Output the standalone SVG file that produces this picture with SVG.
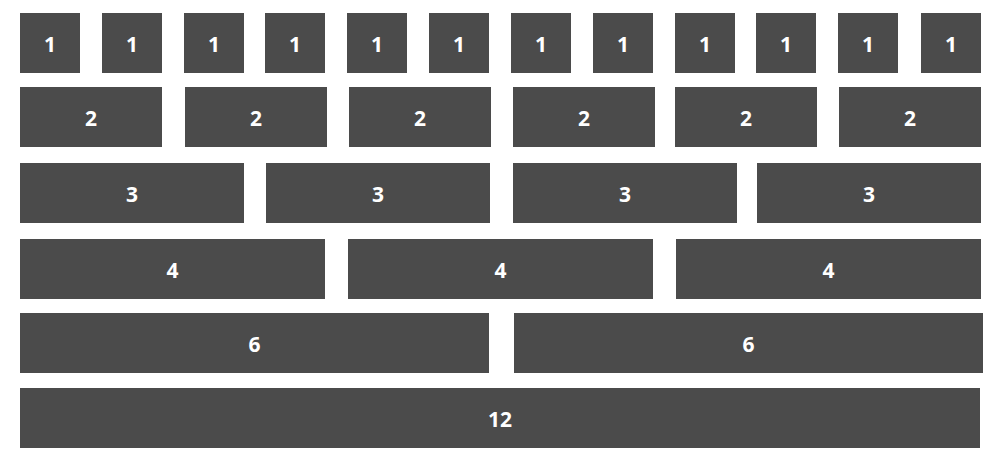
<svg xmlns="http://www.w3.org/2000/svg" width="1000" height="460" viewBox="0 0 1000 460">
<style>
rect{fill:#4b4b4b}
text{fill:#ffffff;font-family:"Open Sans","Liberation Sans",sans-serif;font-weight:700;font-size:21px;text-anchor:middle}
</style>
<rect x="0" y="0" width="1000" height="460" style="fill:#ffffff"/>
<g id="r1c1"><rect x="20" y="13" width="60" height="60"/><text x="50" y="52">1</text></g>
<g id="r1c2"><rect x="102" y="13" width="60" height="60"/><text x="132" y="52">1</text></g>
<g id="r1c3"><rect x="184" y="13" width="60" height="60"/><text x="214" y="52">1</text></g>
<g id="r1c4"><rect x="265" y="13" width="60" height="60"/><text x="295" y="52">1</text></g>
<g id="r1c5"><rect x="347" y="13" width="60" height="60"/><text x="377" y="52">1</text></g>
<g id="r1c6"><rect x="429" y="13" width="60" height="60"/><text x="459" y="52">1</text></g>
<g id="r1c7"><rect x="511" y="13" width="60" height="60"/><text x="541" y="52">1</text></g>
<g id="r1c8"><rect x="593" y="13" width="60" height="60"/><text x="623" y="52">1</text></g>
<g id="r1c9"><rect x="675" y="13" width="60" height="60"/><text x="705" y="52">1</text></g>
<g id="r1c10"><rect x="756" y="13" width="60" height="60"/><text x="786" y="52">1</text></g>
<g id="r1c11"><rect x="838" y="13" width="60" height="60"/><text x="868" y="52">1</text></g>
<g id="r1c12"><rect x="921" y="13" width="60" height="60"/><text x="951" y="52">1</text></g>
<g id="r2c1"><rect x="20" y="87" width="142" height="60"/><text x="91" y="126">2</text></g>
<g id="r2c2"><rect x="185" y="87" width="142" height="60"/><text x="256" y="126">2</text></g>
<g id="r2c3"><rect x="349" y="87" width="142" height="60"/><text x="420" y="126">2</text></g>
<g id="r2c4"><rect x="513" y="87" width="142" height="60"/><text x="584" y="126">2</text></g>
<g id="r2c5"><rect x="675" y="87" width="142" height="60"/><text x="746" y="126">2</text></g>
<g id="r2c6"><rect x="839" y="87" width="142" height="60"/><text x="910" y="126">2</text></g>
<g id="r3c1"><rect x="20" y="163" width="224" height="60"/><text x="132" y="202">3</text></g>
<g id="r3c2"><rect x="266" y="163" width="224" height="60"/><text x="378" y="202">3</text></g>
<g id="r3c3"><rect x="513" y="163" width="224" height="60"/><text x="625" y="202">3</text></g>
<g id="r3c4"><rect x="757" y="163" width="224" height="60"/><text x="869" y="202">3</text></g>
<g id="r4c1"><rect x="20" y="239" width="305" height="60"/><text x="172.5" y="278">4</text></g>
<g id="r4c2"><rect x="348" y="239" width="305" height="60"/><text x="500.5" y="278">4</text></g>
<g id="r4c3"><rect x="676" y="239" width="305" height="60"/><text x="828.5" y="278">4</text></g>
<g id="r5c1"><rect x="20" y="313" width="469" height="60"/><text x="254.5" y="352">6</text></g>
<g id="r5c2"><rect x="514" y="313" width="469" height="60"/><text x="748.5" y="352">6</text></g>
<g id="r6c1"><rect x="20" y="388" width="960" height="60"/><text x="500" y="427">12</text></g>
</svg>
